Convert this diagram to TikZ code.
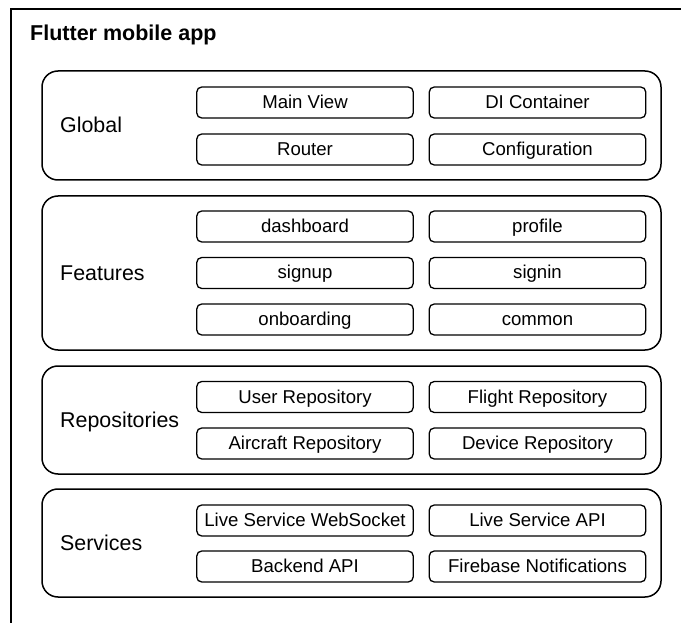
\documentclass[tikz,border=0pt]{standalone}
\usepackage{fontspec}
\setmainfont{Liberation Sans}
\begin{document}
\begin{tikzpicture}[x=1pt,y=-1pt,
  frame/.style={draw=black, line width=1.5pt},
  layer/.style={draw=black, line width=1.5pt, rounded corners=16pt,
    minimum width=619pt, inner sep=0pt},
  layername/.style={anchor=west, font=\fontsize{21.4}{25}\selectfont, inner sep=0pt,
    text height=16pt, text depth=1pt},
  part/.style={draw=black, line width=1.3pt, rounded corners=5pt,
    minimum width=216.5pt, minimum height=31pt, inner sep=0pt,
    text height=13.5pt, text depth=1.5pt,
    font=\fontsize{18.6}{22}\selectfont},
  title/.style={anchor=base west, font=\bfseries\fontsize{21.5}{25}\selectfont, inner sep=0pt}]
\useasboundingbox (0,0) rectangle (681,623);
\clip (0,0) rectangle (681,623);
\fill[white] (0,0) rectangle (681,623);

% application frame, running past the page edges
\draw[frame] (11,640) -- (11,9) -- (700,9);
\node[title] (apptitle) at (30,41) {Flutter mobile app};

% layers
\node[layer, minimum height=109pt] (global) at (351.5,125.5) {};
\node[layer, minimum height=154pt] (features) at (351.5,273) {};
\node[layer, minimum height=108pt] (repos) at (351.5,420) {};
\node[layer, minimum height=108pt] (services) at (351.5,543) {};

\node[layername] (globalname) at (60,125.5) {Global};
\node[layername] (featuresname) at (60,273) {Features};
\node[layername] (reposname) at (60,420) {Repositories};
\node[layername] (servicesname) at (60,543) {Services};

% Global
\node[part] (mainview) at (305,102.5) {Main View};
\node[part] (di) at (537.5,102.5) {DI Container};
\node[part] (router) at (305,149.5) {Router};
\node[part] (config) at (537.5,149.5) {Configuration};

% Features
\node[part] (dashboard) at (305,226.5) {dashboard};
\node[part] (profile) at (537.5,226.5) {profile};
\node[part] (signup) at (305,273) {signup};
\node[part] (signin) at (537.5,273) {signin};
\node[part] (onboarding) at (305,319.5) {onboarding};
\node[part] (common) at (537.5,319.5) {common};

% Repositories
\node[part] (userrepo) at (305,397) {User Repository};
\node[part] (flightrepo) at (537.5,397) {Flight Repository};
\node[part] (aircraftrepo) at (305,443.5) {Aircraft Repository};
\node[part] (devicerepo) at (537.5,443.5) {Device Repository};

% Services
\node[part] (livews) at (305,520.5) {Live Service WebSocket};
\node[part] (liveapi) at (537.5,520.5) {Live Service API};
\node[part] (backend) at (305,566.5) {Backend API};
\node[part] (firebase) at (537.5,566.5) {Firebase Notifications};
\end{tikzpicture}
\end{document}
